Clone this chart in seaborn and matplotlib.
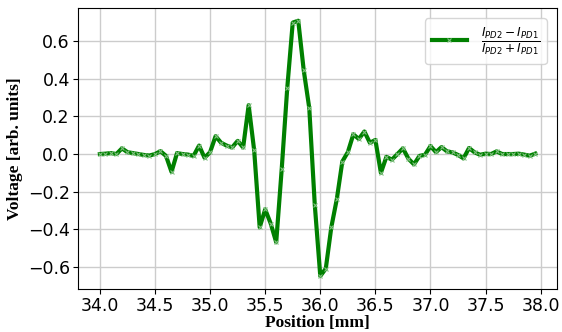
import numpy as np
import pandas as pd
import matplotlib
matplotlib.use("Agg")
import matplotlib.pyplot as plt
import seaborn as sns

# Scan positions (mm), 0.05 mm step
position = [34.00, 34.05, 34.10, 34.15, 34.20, 34.25, 34.30, 34.35, 34.40, 34.45,
            34.50, 34.55, 34.60, 34.65, 34.70, 34.75, 34.80, 34.85, 34.90, 34.95,
            35.00, 35.05, 35.10, 35.15, 35.20, 35.25, 35.30, 35.35, 35.40, 35.45,
            35.50, 35.55, 35.60, 35.65, 35.70, 35.75, 35.80, 35.85, 35.90, 35.95,
            36.00, 36.05, 36.10, 36.15, 36.20, 36.25, 36.30, 36.35, 36.40, 36.45,
            36.50, 36.55, 36.60, 36.65, 36.70, 36.75, 36.80, 36.85, 36.90, 36.95,
            37.00, 37.05, 37.10, 37.15, 37.20, 37.25, 37.30, 37.35, 37.40, 37.45,
            37.50, 37.55, 37.60, 37.65, 37.70, 37.75, 37.80, 37.85, 37.90, 37.95]

# Normalised difference signal (arb. units)
voltage = [0.000, 0.002, 0.005, 0.000, 0.030, 0.010, 0.005, 0.000, -0.005, -0.008,
           0.000, 0.015, -0.010, -0.095, 0.005, 0.000, -0.003, -0.010, 0.045, -0.020,
           0.010, 0.095, 0.060, 0.045, 0.035, 0.070, 0.035, 0.260, 0.020, -0.390,
           -0.295, -0.370, -0.470, -0.080, 0.350, 0.700, 0.710, 0.445, 0.245, -0.270,
           -0.650, -0.610, -0.390, -0.240, -0.040, 0.010, 0.105, 0.080, 0.120, 0.060,
           0.075, -0.100, -0.015, -0.030, 0.000, 0.030, -0.025, -0.055, -0.010, -0.004,
           0.042, 0.010, 0.037, 0.014, 0.009, -0.005, -0.023, 0.032, 0.009, -0.004,
           0.002, 0.000, 0.014, 0.000, 0.000, 0.000, 0.002, -0.003, -0.009, 0.002]

data = pd.DataFrame({'position': position, 'voltage': voltage})
legend_label = r'$\frac{I_{PD2}-I_{PD1}}{I_{PD2}+I_{PD1}}$'

fig, ax = plt.subplots(figsize=(5.62, 3.32), dpi=100)
sns.lineplot(data=data, x='position', y='voltage', ax=ax, color='green',
             linewidth=3, marker='x', markersize=3, markeredgecolor='#80c080',
             markeredgewidth=0.8, label=legend_label)

ax.grid(True, color='#cccccc', linewidth=1)
ax.set_axisbelow(True)
ax.set_xticks(np.arange(34.0, 38.01, 0.5))
ax.tick_params(labelsize=12.5, pad=2.5)
ax.set_xlabel('Position [mm]', fontsize=12.5, fontweight='bold',
              family='Liberation Serif', labelpad=0)
ax.set_ylabel('Voltage [arb. units]', fontsize=12.5, fontweight='bold',
              family='Liberation Serif', labelpad=3)
ax.legend(loc='upper right', fontsize=12.5, handlelength=2.0,
          borderaxespad=0.6)

plt.subplots_adjust(left=0.139, right=0.991, top=0.976, bottom=0.13)
plt.savefig('out.png')
